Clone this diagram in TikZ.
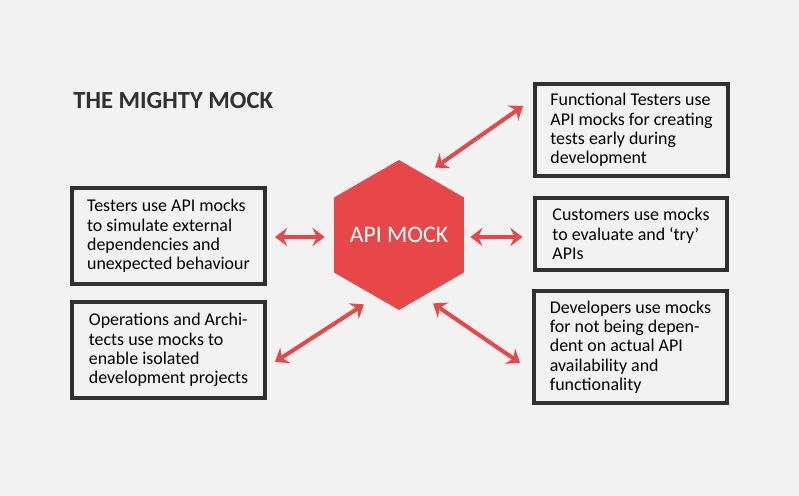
\documentclass[tikz,border=0pt]{standalone}
\usepackage{fontspec}
\setmainfont{Carlito}
\setsansfont{Carlito}
\usepackage{xcolor}
\usetikzlibrary{positioning, arrows.meta, shapes.geometric, calc}
\definecolor{mockRed}{RGB}{232, 71, 74}
\definecolor{boxGray}{RGB}{48, 48, 48}
\definecolor{txtGray}{RGB}{60, 60, 60}
\definecolor{bgGray}{RGB}{242, 242, 242}
\begin{document}
\begin{tikzpicture}[x=0.02cm, y=-0.02cm,
        font=\sffamily\color{txtGray},
        blk/.style={rectangle, draw=boxGray, line width=0.08cm, fill=bgGray,
            minimum width=3.86cm, inner sep=0pt, align=left,
            font=\sffamily\fontsize{10.2}{11}\selectfont},
        arr/.style={{Stealth[length=7pt, width=10.5pt, inset=2.5pt]}-{Stealth[length=7pt, width=10.5pt, inset=2.5pt]},
            line width=0.08cm, mockRed}
    ]
    \fill[bgGray] (0,0) rectangle (799,496);
    \useasboundingbox (0,0) rectangle (799,496);
    \node[anchor=base west, inner sep=0pt, font=\sffamily\bfseries\fontsize{14}{16}\selectfont, text=boxGray] (title) at (73,109) {THE MIGHTY MOCK};
    \node[regular polygon, regular polygon sides=6, shape border rotate=30, minimum size=3cm,
        inner sep=0pt, fill=mockRed,
        label={[font=\sffamily\fontsize{13.5}{15}\selectfont, text=white]center:API MOCK}] (mock) at (399,235) {};
    % left side
    \node[blk, minimum height=1.92cm] (test) at (168.5,236) {Testers use API mocks\\to simulate external\\dependencies and\\unexpected behaviour};
    \node[blk, minimum height=1.92cm] (ops) at (168.5,350) {Operations and Archi-\\tects use mocks to\\enable isolated\\development projects};
    % right side
    \node[blk, minimum height=1.84cm] (ft) at (631.5,130) {Functional Testers use\\API mocks for creating\\tests early during\\development};
    \node[blk, minimum height=1.44cm] (cust) at (631,234) {Customers use mocks\\to evaluate and `try'\\APIs};
    \node[blk, minimum height=2.24cm] (dev) at (630.5,347) {Developers use mocks\\for not being depen-\\dent on actual API\\availability and\\functionality};
    % arrows
    \draw[arr, shorten <=0.16cm, shorten >=0.18cm] (test.east |- 0,237) -- (mock.west |- 0,237);
    \draw[arr, shorten <=0.12cm, shorten >=0.2cm] (mock.east |- 0,237) -- (cust.west |- 0,237);
    \draw[arr] ([shift={(36,8)}]mock.north) -- ([shift={(-10,-24)}]ft.west);
    \draw[arr] ([shift={(-35,-6)}]mock.south) -- ([shift={(8,12)}]ops.east);
    \draw[arr] ([shift={(34,-7)}]mock.south) -- ([shift={(-12,16)}]dev.west);
\end{tikzpicture}
\end{document}
